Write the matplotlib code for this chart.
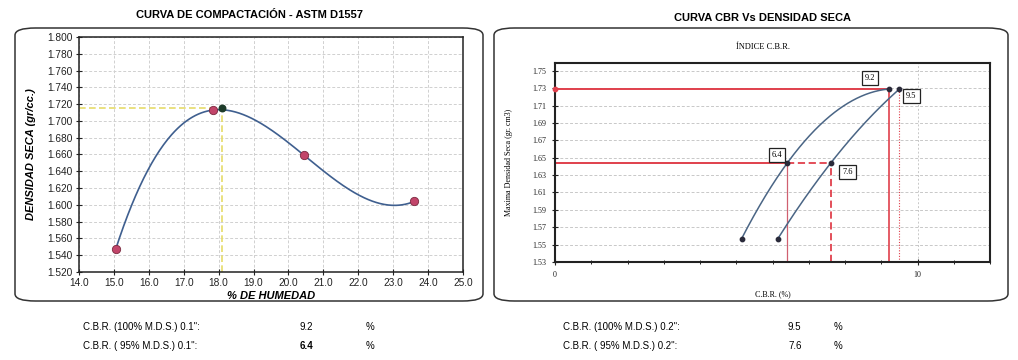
import numpy as np
import matplotlib
matplotlib.use("Agg")
import matplotlib.pyplot as plt
from matplotlib.patches import FancyBboxPatch

# ---------------- data ----------------
humedad = [15.05, 17.85, 20.45, 23.6]
densidad = [1.547, 1.713, 1.659, 1.604]
och = 18.1
mds = 1.715

cbr01_x = [5.15, 6.4, 9.2]
cbr01_y = [1.557, 1.6435, 1.729]
cbr02_x = [6.15, 7.6, 9.5]
cbr02_y = [1.557, 1.6435, 1.729]
dens100 = 1.729
dens95 = 1.6435
cbr_vals = {"100_01": 9.2, "95_01": 6.4, "100_02": 9.5, "95_02": 7.6}

left_xticks = np.arange(14.0, 25.01, 1.0)
left_yticks = np.arange(1.52, 1.8001, 0.02)
right_yticks = np.arange(1.53, 1.7501, 0.02)

SANS = ["Liberation Sans", "DejaVu Sans"]
SERIF = ["Liberation Serif", "DejaVu Serif"]

fig = plt.figure(figsize=(10.18, 3.6), dpi=100)
W, H = 1018, 360

def fx(px):
    return px / W

def fy(py):
    return 1 - py / H

# rounded frames
for (x0, y0, x1, y1) in [(15, 28, 483, 301), (494, 28, 1008, 301)]:
    box = FancyBboxPatch((fx(x0), fy(y1)), fx(x1 - x0), (y1 - y0) / H,
                         boxstyle="round,pad=0,rounding_size=0.02",
                         transform=fig.transFigure, facecolor="none",
                         edgecolor="#333333", linewidth=1.1, zorder=-10)
    fig.patches.append(box)

# ---------------- left chart ----------------
ax1 = fig.add_axes([fx(79), fy(272), fx(463 - 79), (272 - 37) / H])
coef = np.polyfit(humedad, densidad, 3)
xs = np.linspace(humedad[0], humedad[-1], 300)
ax1.plot(xs, np.polyval(coef, xs), color="#3f5f8f", lw=1.2, zorder=3)
ax1.scatter(humedad, densidad, s=36, color="#c2456a", edgecolor="#7a2a40",
            linewidth=0.6, zorder=4)
ax1.scatter([och], [mds], s=22, color="#1d3b2a", zorder=5)
ax1.plot([14.0, och], [mds, mds], ls=(0, (4, 2)), color="#e6dc6a", lw=1.2, zorder=2)
ax1.plot([och, och], [1.52, mds], ls=(0, (4, 2)), color="#e6dc6a", lw=1.2, zorder=2)
ax1.set_xlim(14.0, 25.0)
ax1.set_ylim(1.52, 1.80)
ax1.set_xticks(left_xticks)
ax1.set_xticklabels([f"{v:.1f}" for v in left_xticks], fontfamily=SANS, fontsize=7.3)
ax1.set_yticks(left_yticks)
ax1.set_yticklabels([f"{v:.3f}" for v in left_yticks], fontfamily=SANS, fontsize=7.3)
ax1.grid(True, ls=(0, (3, 2)), color="#d0d0d0", lw=0.7)
ax1.tick_params(direction="inout", length=5, width=0.8, pad=2, colors="#222222")
for s in ax1.spines.values():
    s.set_linewidth(1.1)
    s.set_color("#222222")
ax1.set_ylabel("DENSIDAD SECA (gr/cc.)", fontfamily=SANS, fontsize=8,
               fontweight="bold", fontstyle="italic", labelpad=8)
ax1.set_xlabel("% DE HUMEDAD", fontfamily=SANS, fontsize=8,
               fontweight="bold", fontstyle="italic", labelpad=2)
fig.text(fx(250), fy(15), "CURVA DE COMPACTACIÓN - ASTM D1557", ha="center",
         va="center", fontfamily=SANS, fontsize=8, fontweight="bold")

# ---------------- right chart ----------------
ax2 = fig.add_axes([fx(555), fy(262), fx(990 - 555), (262 - 63) / H])
red = "#e0404c"
curve = "#4a6585"
for cx, cy in [(cbr01_x, cbr01_y), (cbr02_x, cbr02_y)]:
    c = np.polyfit(cx, cy, 2)
    xx = np.linspace(cx[0], cx[-1], 200)
    ax2.plot(xx, np.polyval(c, xx), color=curve, lw=1.1, zorder=3)
    ax2.scatter([cx[0], cx[1], cx[-1]], [cy[0], cy[1], cy[-1]], s=10,
                color="#2a2a3a", zorder=4)

ax2.plot([0, cbr_vals["100_01"]], [dens100, dens100], color=red, lw=1.4, zorder=2)
ax2.scatter([0], [dens100], s=10, color=red, zorder=4, clip_on=False)
ax2.plot([0, cbr_vals["95_01"]], [dens95, dens95], color=red, lw=1.4, zorder=2)
ax2.plot([cbr_vals["95_01"], cbr_vals["95_02"]], [dens95, dens95], color=red,
         lw=1.3, ls=(0, (4, 2)), zorder=2)
ax2.plot([cbr_vals["95_01"]] * 2, [1.53, dens95], color="#d06070", lw=0.9, zorder=2)
ax2.plot([cbr_vals["95_02"]] * 2, [1.53, dens95], color=red, lw=1.3,
         ls=(0, (4, 2)), zorder=2)
ax2.plot([cbr_vals["100_01"]] * 2, [1.53, dens100], color=red, lw=1.2, zorder=2)
ax2.plot([cbr_vals["100_02"]] * 2, [1.53, dens100], color=red, lw=0.8,
         ls=(0, (1, 1.5)), zorder=2)

label_pos = [("100_01", 8.68, 1.7415), ("100_02", 9.83, 1.721),
             ("95_01", 6.12, 1.653), ("95_02", 8.07, 1.634)]
for key, lx, ly in label_pos:
    ax2.text(lx, ly, f"{cbr_vals[key]:.1f}", ha="center", va="center",
             fontfamily=SERIF, fontsize=6, zorder=6,
             bbox=dict(boxstyle="square,pad=0.35", fc="white", ec="#222222", lw=0.9))

ax2.set_xlim(0, 12)
ax2.set_ylim(1.53, 1.759)
ax2.set_xticks([0, 10])
ax2.set_xticklabels(["0", "10"], fontfamily=SERIF, fontsize=5.8)
ax2.set_yticks(right_yticks)
ax2.set_yticklabels([f"{v:.2f}" for v in right_yticks], fontfamily=SERIF, fontsize=5.8)
ax2.set_xticks(np.arange(0, 12.01, 1), minor=True)
ax2.grid(True, axis="y", ls=(0, (3, 2)), color="#c8c8c8", lw=0.7)
ax2.grid(True, axis="x", which="major", ls=(0, (2, 2)), color="#c8c8c8", lw=0.7)
ax2.tick_params(direction="inout", length=5, width=0.8, pad=4, colors="#222222")
ax2.tick_params(axis="x", which="minor", direction="inout", length=3)
for s in ax2.spines.values():
    s.set_linewidth(1.5)
    s.set_color("#222222")
ax2.set_ylabel("Maxima Densidad Seca (gr. cm3)", fontfamily=SERIF, fontsize=5.8, labelpad=14)
ax2.set_xlabel("C.B.R. (%)", fontfamily=SERIF, fontsize=5.8, labelpad=8)
fig.text(fx(763), fy(47), "ÍNDICE C.B.R.", ha="center", va="center",
         fontfamily=SERIF, fontsize=6)
fig.text(fx(763), fy(18), "CURVA CBR Vs DENSIDAD SECA", ha="center",
         va="center", fontfamily=SANS, fontsize=8, fontweight="bold")

# ---------------- bottom summary ----------------
rows = [
    (83, 327, 'C.B.R. (100% M.D.S.) 0.1":', 300, cbr_vals["100_01"], False, 366),
    (83, 346, 'C.B.R. ( 95% M.D.S.) 0.1":', 300, cbr_vals["95_01"], True, 366),
    (563, 327, 'C.B.R. (100% M.D.S.) 0.2":', 788, cbr_vals["100_02"], False, 834),
    (563, 346, 'C.B.R. ( 95% M.D.S.) 0.2":', 788, cbr_vals["95_02"], False, 834),
]
for x0, y0, lab, xv, val, bold, xp in rows:
    fig.text(fx(x0), fy(y0), lab, ha="left", va="center", fontfamily=SANS, fontsize=7)
    fig.text(fx(xv), fy(y0), f"{val:.1f}", ha="left", va="center", fontfamily=SANS,
             fontsize=7, fontweight="bold" if bold else "normal")
    fig.text(fx(xp), fy(y0), "%", ha="left", va="center", fontfamily=SANS, fontsize=7)

fig.savefig("out.png", dpi=100)
